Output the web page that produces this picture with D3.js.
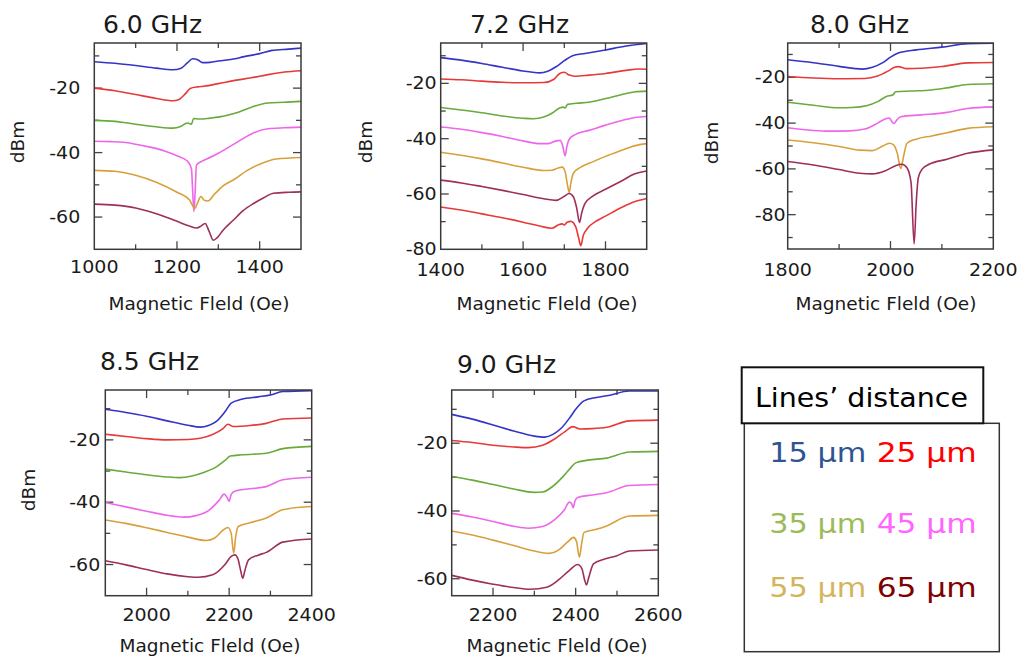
<!DOCTYPE html>
<html>
<head>
<meta charset="utf-8">
<script src="https://cdn.jsdelivr.net/npm/d3@7"></script>
<style>
  html, body { margin: 0; padding: 0; background: #ffffff; }
  svg { display: block; }
  text { font-family: "DejaVu Sans", "Liberation Sans", sans-serif; fill: #1a1a1a; }
</style>
</head>
<body>
<svg id="chart" width="1020" height="658"></svg>
<script>
// ---------------- DATA ----------------
const panelTitles = ["6.0 GHz", "7.2 GHz", "8.0 GHz", "8.5 GHz", "9.0 GHz"];
const xAxisTitle = "Magnetic Fleld (Oe)";
const yAxisTitle = "dBm";
const xDomains = [[1000, 1500], [1400, 1900], [1800, 2200], [1900, 2400], [2100, 2600]];
const yDomains = [[-70, -6], [-80, -5.4], [-95, -5], [-70, -4], [-65, -4.3]];
const xTickLabels = [[1000, 1200, 1400], [1400, 1600, 1800], [1800, 2000, 2200], [2000, 2200, 2400], [2200, 2400, 2600]];
const yTickLabels = [[-20, -40, -60], [-20, -40, -60, -80], [-20, -40, -60, -80], [-20, -40, -60], [-20, -40, -60]];
const seriesNames = ["15 µm", "25 µm", "35 µm", "45 µm", "55 µm", "65 µm"];
const legendTitle = "Lines’ distance";

// 6.0 GHz
const ghz60 = [
  [[1000,-11.8],[1050,-12.3],[1100,-13.0],[1150,-13.8],[1190,-14.3],[1210,-13.8],[1225,-12.2],[1238,-10.9],[1250,-11.2],[1262,-12.1],[1280,-12.0],[1300,-11.6],[1340,-10.9],[1360,-10.3],[1400,-9.3],[1430,-8.3],[1470,-7.9],[1500,-7.6]],
  [[1000,-20],[1050,-20.8],[1100,-22],[1150,-23.2],[1190,-23.9],[1205,-23.5],[1220,-21.8],[1232,-20.1],[1250,-19.6],[1265,-19.4],[1300,-18.6],[1340,-17.6],[1380,-16.8],[1420,-15.8],[1460,-15.0],[1500,-14.6]],
  [[1000,-30],[1050,-30.3],[1100,-31.2],[1150,-32],[1190,-32.4],[1210,-31.8],[1225,-30.8],[1235,-31.2],[1240,-29.4],[1255,-29.6],[1280,-29.3],[1300,-29.0],[1340,-27.8],[1380,-25.9],[1420,-24.6],[1460,-24.4],[1500,-24.1]],
  [[1000,-36.5],[1040,-36.6],[1070,-36.8],[1100,-37.4],[1135,-38.3],[1170,-39.5],[1200,-41],[1225,-42.6],[1235,-45],[1238,-52],[1241,-58.3],[1244,-52],[1247,-44],[1255,-43],[1265,-42.4],[1300,-40.2],[1340,-37.2],[1380,-34.2],[1420,-32.6],[1460,-32.3],[1500,-32.1]],
  [[1000,-45.5],[1050,-45.8],[1100,-47],[1150,-49.2],[1200,-52.3],[1230,-54.6],[1243,-57.3],[1250,-55.5],[1258,-53.6],[1266,-54.8],[1275,-55],[1290,-53],[1310,-50.5],[1340,-48.2],[1370,-45.5],[1400,-43.6],[1440,-42],[1500,-41.5]],
  [[1000,-56],[1050,-56.3],[1100,-57.2],[1150,-59],[1200,-61.3],[1230,-62.8],[1248,-63.4],[1258,-62.8],[1268,-62],[1278,-64.5],[1288,-67.2],[1298,-66.3],[1312,-64],[1336,-61],[1360,-58],[1385,-55.8],[1410,-54],[1433,-52.6],[1470,-52.3],[1500,-52.2]]
];
// 7.2 GHz
const ghz72 = [
  [[1400,-10.7],[1450,-11.6],[1500,-12.8],[1550,-14.2],[1600,-15.5],[1640,-16.2],[1660,-15.6],[1680,-14],[1700,-11.8],[1720,-10],[1750,-9.2],[1800,-7.9],[1850,-6.5],[1900,-5.6]],
  [[1400,-18.4],[1450,-18.7],[1500,-19.2],[1550,-19.6],[1600,-19.8],[1650,-19.7],[1675,-18.5],[1690,-16.3],[1700,-16],[1712,-17],[1725,-17.4],[1760,-17],[1800,-16.4],[1850,-15.3],[1880,-14.8],[1900,-14.9]],
  [[1400,-28.7],[1450,-29.6],[1500,-30.6],[1550,-31.8],[1600,-32.6],[1625,-32.8],[1650,-32.2],[1670,-30.8],[1690,-28.8],[1698,-28.6],[1702,-28.9],[1708,-27.6],[1730,-27.2],[1760,-26.8],[1800,-25.5],[1840,-24],[1870,-23.1],[1900,-22.8]],
  [[1400,-35.8],[1450,-36.6],[1500,-37.8],[1550,-39.2],[1600,-40.8],[1640,-41.8],[1660,-41.8],[1680,-40.8],[1690,-40.6],[1696,-42.5],[1702,-46.2],[1706,-43],[1712,-40.2],[1725,-38.6],[1760,-37],[1800,-35.1],[1840,-33.4],[1870,-32.4],[1900,-32]],
  [[1400,-44.9],[1450,-46],[1500,-47.3],[1550,-48.8],[1600,-50.3],[1650,-51.5],[1670,-51.4],[1685,-50.6],[1695,-50.3],[1702,-52],[1708,-57],[1712,-59.5],[1716,-56],[1722,-52.5],[1738,-50.5],[1770,-48.3],[1800,-46.4],[1840,-44.2],[1870,-42.6],[1900,-41.8]],
  [[1400,-55],[1450,-56],[1500,-57.3],[1550,-58.7],[1600,-60.2],[1650,-61.7],[1680,-62.3],[1700,-60.8],[1712,-59.8],[1722,-61],[1730,-65],[1737,-70.3],[1742,-67],[1750,-63.5],[1770,-60.7],[1800,-58.3],[1840,-55.2],[1870,-52.8],[1900,-51.7]],
  [[1400,-64.7],[1450,-65.8],[1500,-67.2],[1550,-68.6],[1600,-70.2],[1640,-71.6],[1670,-72.4],[1685,-71.2],[1695,-70.8],[1700,-71.2],[1706,-70.3],[1716,-69.9],[1728,-72],[1735,-76],[1740,-78.7],[1746,-75],[1756,-72.5],[1780,-69.6],[1800,-68],[1840,-64.8],[1870,-62.8],[1900,-61.6]]
];
// 8.0 GHz
const ghz80 = [
  [[1800,-12.3],[1850,-13.6],[1900,-15.2],[1945,-16.4],[1965,-15.6],[1985,-13.6],[2000,-11.2],[2015,-9.4],[2050,-8],[2100,-6.8],[2150,-5.3],[2200,-5.1]],
  [[1800,-19.6],[1850,-20.3],[1900,-20.6],[1950,-20.5],[1975,-19.4],[1995,-17.3],[2008,-15.6],[2015,-15.3],[2030,-16.2],[2060,-16],[2100,-15.3],[2150,-13.7],[2200,-13.5]],
  [[1800,-30.9],[1850,-32.2],[1900,-33.3],[1925,-33.2],[1955,-32.3],[1975,-30.6],[1992,-28.4],[2005,-27.6],[2010,-26.3],[2040,-26],[2080,-25.5],[2110,-24.6],[2150,-23.1],[2200,-22.8]],
  [[1800,-42],[1850,-43.2],[1880,-43.5],[1920,-43.4],[1950,-42.6],[1975,-40],[1992,-38],[1998,-37.8],[2003,-39.5],[2007,-40.2],[2012,-38.7],[2020,-37.2],[2060,-36.4],[2110,-35.3],[2150,-33.6],[2200,-32.9]],
  [[1800,-47.4],[1850,-48.6],[1900,-50.2],[1940,-51.8],[1965,-52],[1985,-50],[1998,-48.8],[2006,-49.5],[2013,-53],[2020,-59.8],[2025,-55],[2032,-48.8],[2050,-47],[2080,-45.6],[2110,-44.2],[2150,-42.3],[2200,-41.6]],
  [[1800,-56.8],[1850,-58.3],[1900,-60.3],[1940,-61.9],[1965,-62.2],[1990,-60.8],[2010,-58.6],[2022,-58],[2032,-59.5],[2040,-66],[2046,-92.8],[2050,-75],[2054,-64],[2062,-60],[2075,-58],[2110,-55.8],[2150,-53.2],[2200,-51.7]]
];
// 8.5 GHz
const ghz85 = [
  [[1900,-10.2],[1950,-11.2],[2000,-12.4],[2050,-13.9],[2100,-15.3],[2130,-15.9],[2150,-15.4],[2170,-14],[2190,-11],[2205,-8.2],[2230,-7],[2270,-6.2],[2300,-5.6],[2330,-4.5],[2400,-4.2]],
  [[1900,-18.2],[1950,-18.9],[2000,-19.6],[2050,-20],[2100,-19.9],[2130,-19.5],[2160,-18.3],[2185,-16.4],[2197,-15],[2210,-15.7],[2250,-15.4],[2290,-14.7],[2330,-13.3],[2400,-13]],
  [[1900,-29.4],[1950,-30.3],[2000,-31.2],[2050,-31.9],[2080,-32.1],[2110,-31.6],[2140,-30.4],[2170,-28.6],[2190,-26.6],[2203,-25.2],[2230,-24.8],[2290,-24.3],[2330,-22.8],[2400,-22.1]],
  [[1900,-40.1],[1950,-41.5],[2000,-42.9],[2050,-44.2],[2090,-44.8],[2120,-44.3],[2150,-42.7],[2175,-39.5],[2188,-37.4],[2195,-38.5],[2200,-39.7],[2205,-37.5],[2215,-36.4],[2250,-35.7],[2290,-35],[2330,-32.8],[2400,-32]],
  [[1900,-45.7],[1950,-46.8],[2000,-48.2],[2050,-49.7],[2100,-51.2],[2145,-52.3],[2165,-51.5],[2185,-49],[2197,-48.1],[2205,-50],[2211,-56.4],[2216,-51],[2222,-47.8],[2250,-46.6],[2290,-45.1],[2330,-42.4],[2400,-41.4]],
  [[1900,-58.8],[1950,-60.1],[2000,-61.6],[2050,-63],[2100,-63.9],[2125,-64.1],[2160,-63.3],[2190,-60],[2205,-57.4],[2214,-56.9],[2222,-58.5],[2228,-62],[2233,-64.4],[2238,-62],[2247,-58.5],[2270,-57],[2290,-56.1],[2330,-52.8],[2400,-51.8]]
];
// 9.0 GHz
const ghz90 = [
  [[2100,-11.5],[2150,-12.9],[2200,-14.6],[2250,-16.4],[2300,-17.9],[2325,-18.2],[2345,-17.4],[2365,-15.6],[2385,-12.6],[2400,-10],[2420,-7.5],[2450,-6.5],[2480,-5.9],[2530,-4.6],[2600,-4.6]],
  [[2100,-19.2],[2150,-19.8],[2200,-20.6],[2250,-21.1],[2285,-21.3],[2320,-20.6],[2350,-18.7],[2375,-16.5],[2393,-15.1],[2410,-15.8],[2440,-15.7],[2475,-15.3],[2530,-13.4],[2600,-13.2]],
  [[2100,-29.8],[2150,-30.9],[2200,-32.2],[2250,-33.5],[2300,-34.5],[2320,-34.4],[2345,-32.7],[2370,-29.8],[2390,-27],[2400,-25.8],[2430,-25],[2475,-24.4],[2530,-22.6],[2600,-22.4]],
  [[2100,-40.7],[2150,-41.8],[2200,-43.1],[2250,-44.5],[2285,-45.1],[2320,-44.6],[2350,-42.5],[2372,-39.8],[2385,-37.4],[2390,-37.8],[2394,-39],[2398,-37.2],[2405,-36],[2440,-35.3],[2475,-34.6],[2530,-32.5],[2600,-32.2]],
  [[2100,-45.9],[2150,-47.1],[2200,-48.6],[2250,-50.2],[2300,-51.8],[2335,-52.5],[2360,-51.4],[2380,-49.2],[2395,-47.8],[2402,-49],[2409,-53.6],[2414,-50],[2420,-46.4],[2450,-45.4],[2475,-44.4],[2530,-41.5],[2600,-41.3]],
  [[2100,-59],[2150,-60.4],[2200,-61.6],[2250,-62.6],[2290,-63.1],[2330,-62.5],[2360,-60.2],[2385,-57.5],[2405,-55.8],[2415,-57],[2422,-60.5],[2426,-61.8],[2432,-59.5],[2443,-55.6],[2470,-54.2],[2500,-53.2],[2530,-51.8],[2600,-51.5]]
];
const panelSeries = [ghz60, ghz72, ghz80, ghz85, ghz90];

// ---------------- STYLE / LAYOUT ----------------
const lineColors = ["#3434c6", "#e63a3a", "#68aa3c", "#ee66ea", "#d8a03c", "#9e2f5c", "#e63a3a"];
const legendColors = ["#2e5591", "#ff0000", "#9bbb59", "#ff66ff", "#d4b45c", "#800000"];

const layout = [
  {l: 94.3,  t: 43,  w: 206.7, h: 206.3, title: [103, 33.3], ylab: [24, 142], gap: 14, xlb: 273, xt: [199, 310]},
  {l: 440.7, t: 43,  w: 206.0, h: 206.3, title: [470, 33.3], ylab: [372, 142], gap: 4,  xlb: 276, xt: [547, 310]},
  {l: 787.7, t: 43,  w: 205.6, h: 206.0, title: [810, 33.3], ylab: [718, 143], gap: 2,  xlb: 276, xt: [886, 310]},
  {l: 105.3, t: 390, w: 206.4, h: 205.7, title: [100, 370],  ylab: [35, 490],  gap: 5,  xlb: 621, xt: [210, 652]},
  {l: 451.7, t: 390, w: 206.6, h: 205.7, title: [457, 373],  ylab: null,       gap: 4,  xlb: 621, xt: [557, 652]}
];
const tickStretch = 1.12;

const svg = d3.select("#chart");
const defs = svg.append("defs");

panelSeries.forEach((series, i) => {
  const L = layout[i];
  const x = d3.scaleLinear().domain(xDomains[i]).range([L.l, L.l + L.w]);
  const y = d3.scaleLinear().domain(yDomains[i]).range([L.t + L.h, L.t]);
  const g = svg.append("g");

  defs.append("clipPath").attr("id", "clip" + i)
    .append("rect").attr("x", L.l).attr("y", L.t).attr("width", L.w).attr("height", L.h);

  // minor / major ticks (inward on all four sides)
  const xt = d3.range(Math.ceil(xDomains[i][0] / 100) * 100, xDomains[i][1] + 1, 100);
  const ytv = d3.range(Math.ceil(yDomains[i][0] / 10) * 10, yDomains[i][1], 10);
  const tickG = g.append("g").attr("stroke", "#444").attr("stroke-width", 1.3);
  xt.forEach(v => {
    const major = v % 200 === 0;
    const len = major ? 8 : 5;
    const px = x(v);
    if (px <= L.l + 0.5 || px >= L.l + L.w - 0.5) return;
    tickG.append("line").attr("x1", px).attr("x2", px).attr("y1", L.t + L.h).attr("y2", L.t + L.h - len);
    tickG.append("line").attr("x1", px).attr("x2", px).attr("y1", L.t).attr("y2", L.t + len);
  });
  ytv.forEach(v => {
    const major = v % 20 === 0;
    const len = major ? 8 : 5;
    const py = y(v);
    if (py <= L.t + 0.5 || py >= L.t + L.h - 0.5) return;
    tickG.append("line").attr("x1", L.l).attr("x2", L.l + len).attr("y1", py).attr("y2", py);
    tickG.append("line").attr("x1", L.l + L.w).attr("x2", L.l + L.w - len).attr("y1", py).attr("y2", py);
  });

  // curves
  const line = d3.line().x(d => x(d[0])).y(d => y(d[1])).curve(d3.curveMonotoneX);
  g.append("g").attr("clip-path", "url(#clip" + i + ")")
    .selectAll("path").data(series).join("path")
    .attr("d", line)
    .attr("fill", "none")
    .attr("stroke", (d, k) => lineColors[k])
    .attr("stroke-width", 1.6)
    .attr("stroke-linejoin", "round");

  // frame
  g.append("rect").attr("x", L.l).attr("y", L.t).attr("width", L.w).attr("height", L.h)
    .attr("fill", "none").attr("stroke", "#3a3a3a").attr("stroke-width", 1.5);

  // tick labels
  g.selectAll("text.xl").data(xTickLabels[i]).join("text")
    .attr("class", "xl")
    .attr("transform", d => `translate(${x(d)},${L.xlb}) scale(${tickStretch},1)`)
    .attr("text-anchor", "middle").attr("font-size", 17)
    .text(d => d);
  g.selectAll("text.yl").data(yTickLabels[i]).join("text")
    .attr("class", "yl")
    .attr("transform", d => `translate(${L.l - L.gap},${y(d) + 6}) scale(${tickStretch},1)`)
    .attr("text-anchor", "end").attr("font-size", 17)
    .text(d => d);

  // titles
  g.append("text").attr("x", L.title[0]).attr("y", L.title[1])
    .attr("font-size", 25).text(panelTitles[i]);
  g.append("text").attr("x", L.xt[0]).attr("y", L.xt[1])
    .attr("text-anchor", "middle").attr("font-size", 18.5).text(xAxisTitle);
  if (L.ylab) {
    g.append("text")
      .attr("transform", `translate(${L.ylab[0]},${L.ylab[1]}) rotate(-90)`)
      .attr("text-anchor", "middle").attr("font-size", 18.5).text(yAxisTitle);
  }
});

// ---------------- LEGEND ----------------
const lg = svg.append("g");
lg.append("rect").attr("x", 744.3).attr("y", 423.3).attr("width", 255).attr("height", 228.4)
  .attr("fill", "#fff").attr("stroke", "#333").attr("stroke-width", 1.5);
lg.append("rect").attr("x", 741.7).attr("y", 367.3).attr("width", 241.6).attr("height", 56)
  .attr("fill", "#fff").attr("stroke", "#111").attr("stroke-width", 2);
lg.append("text").attr("x", 755).attr("y", 406.7).attr("font-size", 27)
  .attr("textLength", 213).attr("lengthAdjust", "spacingAndGlyphs")
  .style("fill", "#000").text(legendTitle);

const colX = [769.3, 876.7];
const rowY = [461.7, 533.3, 597.3];
seriesNames.forEach((name, k) => {
  lg.append("text")
    .attr("x", colX[k % 2]).attr("y", rowY[Math.floor(k / 2)])
    .attr("font-size", 26)
    .attr("textLength", k % 2 === 0 ? 97 : 100).attr("lengthAdjust", "spacingAndGlyphs")
    .style("fill", legendColors[k])
    .text(name);
});
</script>
</body>
</html>
